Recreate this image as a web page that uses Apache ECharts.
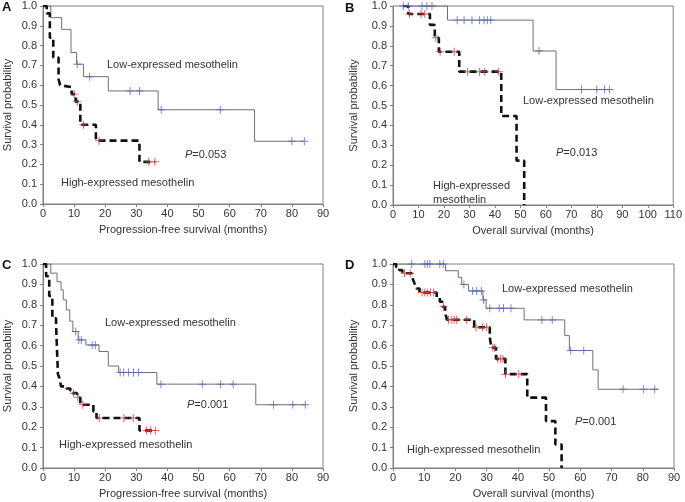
<!DOCTYPE html>
<html>
<head>
<meta charset="utf-8">
<script src="https://cdn.jsdelivr.net/npm/echarts@6/dist/echarts.min.js"></script>
<style>
html,body{margin:0;padding:0;background:#fff;}
#chart{width:685px;height:502px;}
</style>
</head>
<body>
<div id="chart"></div>
<script>
// ---------- Data (time in months, survival probability) ----------
// Panel A: progression-free survival
const aLowSteps = [[0,1],[2.5,0.941],[6,0.882],[9,0.765],[10.8,0.706],[13,0.643],[21,0.571],[37,0.476],[68,0.317],[84,0.317]];
const aLowCensored = [[11,0.706],[15,0.643],[28,0.571],[31,0.571],[38,0.476],[57,0.476],[80,0.317],[84,0.317]];
const aHighSteps = [[0,1],[1.2,0.963],[2.2,0.84],[3.3,0.74],[5,0.63],[5.5,0.60],[6,0.59],[9.2,0.555],[10.5,0.517],[12,0.40],[17,0.32],[31,0.213],[36,0.213]];
const aHighCensored = [[10,0.555],[11,0.517],[13,0.40],[18,0.32],[34,0.213],[36,0.213]];

// Panel B: overall survival
const bLowSteps = [[4,1],[21.4,0.929],[55,0.774],[64,0.58],[85,0.58]];
const bLowCensored = [[4,1],[6,1],[11.4,1],[13.3,1],[15.3,1],[25.2,0.929],[27.9,0.929],[31,0.929],[34,0.929],[35.7,0.929],[37,0.929],[38.4,0.929],[57.3,0.774],[74,0.58],[80,0.58],[83,0.58],[85,0.58]];
const bHighSteps = [[4,1],[6,0.96],[14.5,0.905],[16.4,0.84],[18,0.77],[26,0.67],[42.5,0.447],[48.5,0.223],[51.5,0]];
const bHighCensored = [[6.5,0.96],[11,0.96],[12.5,0.96],[16.8,0.84],[18.5,0.77],[24,0.77],[29.3,0.67],[34,0.67],[36,0.67],[41.5,0.67]];

// Panel C: progression-free survival
const cLowSteps = [[0,1],[2.5,0.955],[4.5,0.913],[5.8,0.873],[6.5,0.824],[7.5,0.775],[8.6,0.72],[9.6,0.669],[11.3,0.628],[13.8,0.603],[18,0.571],[21,0.5],[24.3,0.468],[36.6,0.411],[68.4,0.31],[84.5,0.31]];
const cLowCensored = [[10.5,0.669],[11.5,0.628],[12.3,0.628],[15.8,0.603],[16.8,0.603],[24.8,0.468],[25.9,0.468],[27.5,0.468],[29.1,0.468],[30.7,0.468],[37.9,0.411],[51.2,0.411],[57.1,0.411],[61.1,0.411],[74.1,0.31],[80.3,0.31],[84.3,0.31]];
const cHighSteps = [[0,1],[1,0.94],[2,0.843],[3,0.734],[4.2,0.70],[4.8,0.46],[5.3,0.44],[5.8,0.40],[7.5,0.39],[8.8,0.38],[9.5,0.367],[11,0.345],[12,0.31],[16.2,0.277],[17.2,0.245],[31,0.184],[36.1,0.184]];
const cHighCensored = [[9.8,0.367],[11.2,0.345],[12.8,0.31],[18.1,0.245],[26,0.245],[29,0.245],[33.3,0.184],[34.6,0.184],[36.1,0.184]];

// Panel D: overall survival
const dLowSteps = [[0,1],[16.8,0.967],[20.9,0.935],[22,0.90],[24.2,0.868],[28.8,0.824],[29.8,0.783],[42,0.726],[55,0.649],[56.5,0.576],[64,0.481],[65.7,0.386],[85,0.386]];
const dLowCensored = [[6,1],[10.2,1],[11,1],[11.8,1],[15,1],[16.1,1],[22.7,0.90],[25.5,0.868],[26.8,0.868],[28.3,0.868],[29,0.824],[31,0.783],[34,0.783],[35.4,0.783],[37.8,0.783],[47.7,0.726],[51,0.726],[56.9,0.576],[61.1,0.576],[73.7,0.386],[80.2,0.386],[83.8,0.386]];
const dHighSteps = [[0,1],[1,0.985],[2,0.97],[3,0.955],[6,0.94],[6.5,0.92],[7,0.90],[7.5,0.88],[8.5,0.86],[14,0.835],[15,0.815],[16,0.79],[16.7,0.76],[17.3,0.727],[26,0.69],[31,0.64],[31.5,0.59],[33,0.535],[36,0.46],[43,0.345],[49,0.23],[52,0.115],[54,0]];
const dHighCensored = [[3.7,0.955],[5.5,0.955],[9.3,0.86],[10.2,0.86],[11,0.86],[12,0.86],[13,0.86],[16.2,0.79],[17.8,0.727],[18.8,0.727],[19.6,0.727],[20.4,0.727],[23.6,0.727],[26.6,0.69],[28.7,0.69],[30,0.69],[32,0.59],[32.6,0.59],[33.5,0.535],[34.4,0.535],[35.2,0.535],[36,0.46],[40.3,0.46]];

// Axis settings / labels
const panelLetters = ['A','B','C','D'];
const xTitles = ['Progression-free survival (months)','Overall survival (months)','Progression-free survival (months)','Overall survival (months)'];
const xMax = [90,110,90,90];
const yTitle = 'Survival probability';
const pValues = ['0.053','0.013','0.001','0.001'];

// ---------- Chart ----------
const FONT = 'Liberation Sans, Arial, Helvetica, sans-serif';
const TXT = '#333';
const FRAME = '#808080';
const LOW_LINE = '#707070';
const HIGH_LINE = '#111';
const LOW_MARK = '#5566b8';
const HIGH_MARK = '#c8323c';
const PLUS = 'path://M4.4,0H5.6V10H4.4ZM0,4.4H10V5.6H0Z';

const grids = [
  {left:43, top:6, width:280, height:198},
  {left:393, top:6, width:281, height:199},
  {left:43, top:264, width:280, height:204},
  {left:393, top:264, width:281, height:204}
];
const yGaps = [30,34,30,34];

const chart = echarts.init(document.getElementById('chart'), null, {renderer:'canvas'});

const steps = [[aLowSteps,aHighSteps],[bLowSteps,bHighSteps],[cLowSteps,cHighSteps],[dLowSteps,dHighSteps]];
const cens = [[aLowCensored,aHighCensored],[bLowCensored,bHighCensored],[cLowCensored,cHighCensored],[dLowCensored,dHighCensored]];

const option = {
  animation:false,
  textStyle:{fontFamily:FONT},
  grid: grids.map(g => Object.assign({show:true, borderColor:FRAME, borderWidth:1, containLabel:false}, g)),
  xAxis: grids.map((g,i) => ({
    type:'value', gridIndex:i, min:0, max:xMax[i], interval:10,
    name:xTitles[i], nameLocation:'middle', nameGap:20,
    nameTextStyle:{color:TXT, fontSize:11, fontFamily:FONT},
    axisLine:{show:true, lineStyle:{color:FRAME, width:1}},
    axisTick:{show:true, length:3, lineStyle:{color:FRAME}},
    axisLabel:{color:TXT, fontSize:11, fontFamily:FONT, margin:4},
    splitLine:{show:false}
  })),
  yAxis: grids.map((g,i) => ({
    type:'value', gridIndex:i, min:0, max:1, interval:0.1,
    name:yTitle, nameLocation:'middle', nameGap:yGaps[i],
    nameTextStyle:{color:TXT, fontSize:11, fontFamily:FONT},
    axisLine:{show:true, lineStyle:{color:FRAME, width:1}},
    axisTick:{show:true, length:3, lineStyle:{color:FRAME}},
    axisLabel:{color:TXT, fontSize:11, fontFamily:FONT, margin:6, formatter:v => v.toFixed(1)},
    splitLine:{show:false}
  })),
  series: [],
  graphic: []
};

steps.forEach((pair,i) => {
  option.series.push({
    type:'line', xAxisIndex:i, yAxisIndex:i, data:pair[0], step:'end',
    symbol:'none', lineStyle:{color:LOW_LINE, width:1}, z:2, silent:true
  });
  option.series.push({
    type:'line', xAxisIndex:i, yAxisIndex:i, data:pair[1], step:'end',
    symbol:'none', lineStyle:{color:HIGH_LINE, width:2.6, type:[7,4]}, z:3, silent:true
  });
  option.series.push({
    type:'scatter', xAxisIndex:i, yAxisIndex:i, data:cens[i][0],
    symbol:PLUS, symbolSize:8, itemStyle:{color:LOW_MARK}, z:4, silent:true
  });
  option.series.push({
    type:'scatter', xAxisIndex:i, yAxisIndex:i, data:cens[i][1],
    symbol:PLUS, symbolSize:8, itemStyle:{color:HIGH_MARK}, z:5, silent:true
  });
});

function txt(left, top, text, extra) {
  return Object.assign({
    type:'text', left:left, top:top, silent:true,
    style:{text:text, fill:TXT, font:'11px ' + FONT}
  }, extra || {});
}
function ptxt(left, top, p) {
  return {
    type:'text', left:left, top:top, silent:true,
    style:{text:'{i|P}=' + p, fill:TXT, font:'11px ' + FONT,
      rich:{i:{fontStyle:'italic', fontSize:11, fontFamily:FONT, fill:TXT}}}
  };
}
const labelPos = [[2,1],[345,2],[2,259],[345,259]];
labelPos.forEach((p,i) => {
  option.graphic.push({type:'text', left:p[0], top:p[1], silent:true,
    style:{text:panelLetters[i], fill:'#111', font:'bold 13px ' + FONT}});
});
option.graphic.push(txt(107, 59, 'Low-expressed mesothelin'));
option.graphic.push(ptxt(185, 149, pValues[0]));
option.graphic.push(txt(61, 177, 'High-expressed mesothelin'));
option.graphic.push(txt(523, 95, 'Low-expressed mesothelin'));
option.graphic.push(ptxt(556, 147, pValues[1]));
option.graphic.push(txt(433, 179, 'High-expressed\nmesothelin', {style:{text:'High-expressed\nmesothelin', fill:TXT, font:'11px ' + FONT, lineHeight:14}}));
option.graphic.push(txt(105, 317, 'Low-expressed mesothelin'));
option.graphic.push(ptxt(187, 399, pValues[2]));
option.graphic.push(txt(59, 439, 'High-expressed mesothelin'));
option.graphic.push(txt(502, 283, 'Low-expressed mesothelin'));
option.graphic.push(ptxt(575, 416, pValues[3]));
option.graphic.push(txt(407, 444, 'High-expressed mesothelin'));

chart.setOption(option);
</script>
</body>
</html>
